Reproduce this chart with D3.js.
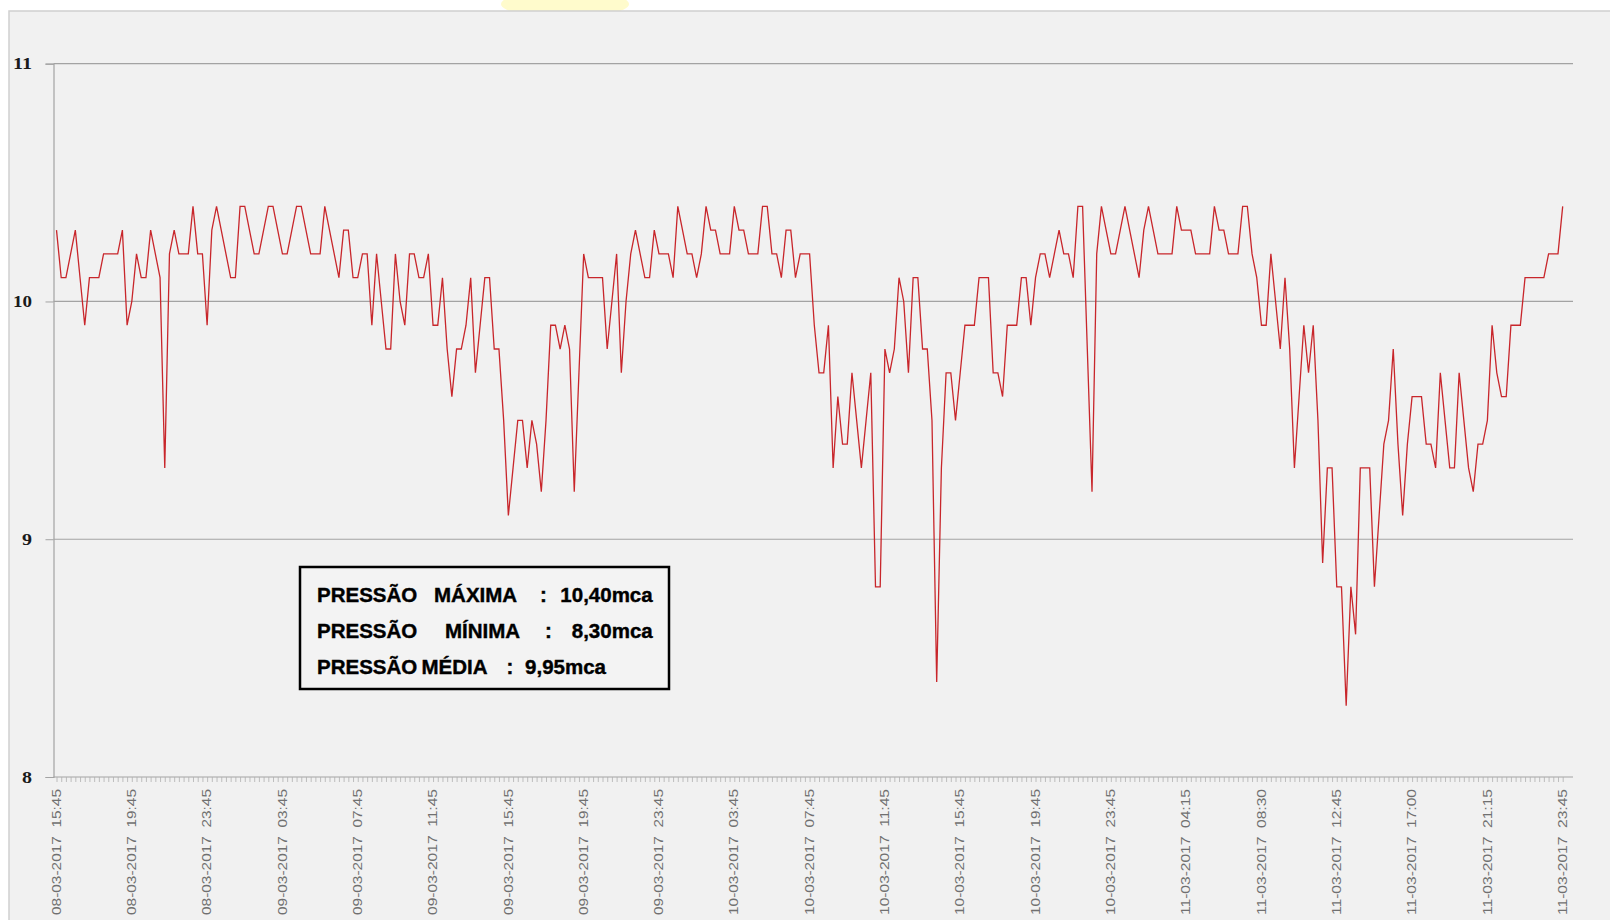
<!DOCTYPE html>
<html>
<head>
<meta charset="utf-8">
<script src="https://cdnjs.cloudflare.com/ajax/libs/d3/7.8.5/d3.min.js"></script>
<style>
  html, body { margin: 0; padding: 0; background: #ffffff; }
  svg { display: block; }
</style>
</head>
<body>
<svg id="chart" width="1610" height="920"></svg>
<script>
// ---- data ----
const pressure = [
10.3,10.1,10.1,10.2,10.3,10.1,9.9,10.1,10.1,10.1,
10.2,10.2,10.2,10.2,10.3,9.9,10.0,10.2,10.1,10.1,
10.3,10.2,10.1,9.3,10.2,10.3,10.2,10.2,10.2,10.4,
10.2,10.2,9.9,10.3,10.4,10.3,10.2,10.1,10.1,10.4,
10.4,10.3,10.2,10.2,10.3,10.4,10.4,10.3,10.2,10.2,
10.3,10.4,10.4,10.3,10.2,10.2,10.2,10.4,10.3,10.2,
10.1,10.3,10.3,10.1,10.1,10.2,10.2,9.9,10.2,10.0,
9.8,9.8,10.2,10.0,9.9,10.2,10.2,10.1,10.1,10.2,
9.9,9.9,10.1,9.8,9.6,9.8,9.8,9.9,10.1,9.7,
9.9,10.1,10.1,9.8,9.8,9.5,9.1,9.3,9.5,9.5,
9.3,9.5,9.4,9.2,9.5,9.9,9.9,9.8,9.9,9.8,
9.2,9.7,10.2,10.1,10.1,10.1,10.1,9.8,10.0,10.2,
9.7,10.0,10.2,10.3,10.2,10.1,10.1,10.3,10.2,10.2,
10.2,10.1,10.4,10.3,10.2,10.2,10.1,10.2,10.4,10.3,
10.3,10.2,10.2,10.2,10.4,10.3,10.3,10.2,10.2,10.2,
10.4,10.4,10.2,10.2,10.1,10.3,10.3,10.1,10.2,10.2,
10.2,9.9,9.7,9.7,9.9,9.3,9.6,9.4,9.4,9.7,
9.5,9.3,9.5,9.7,8.8,8.8,9.8,9.7,9.8,10.1,
10.0,9.7,10.1,10.1,9.8,9.8,9.5,8.4,9.3,9.7,
9.7,9.5,9.7,9.9,9.9,9.9,10.1,10.1,10.1,9.7,
9.7,9.6,9.9,9.9,9.9,10.1,10.1,9.9,10.1,10.2,
10.2,10.1,10.2,10.3,10.2,10.2,10.1,10.4,10.4,9.8,
9.2,10.2,10.4,10.3,10.2,10.2,10.3,10.4,10.3,10.2,
10.1,10.3,10.4,10.3,10.2,10.2,10.2,10.2,10.4,10.3,
10.3,10.3,10.2,10.2,10.2,10.2,10.4,10.3,10.3,10.2,
10.2,10.2,10.4,10.4,10.2,10.1,9.9,9.9,10.2,10.0,
9.8,10.1,9.8,9.3,9.6,9.9,9.7,9.9,9.5,8.9,
9.3,9.3,8.8,8.8,8.3,8.8,8.6,9.3,9.3,9.3,
8.8,9.1,9.4,9.5,9.8,9.4,9.1,9.4,9.6,9.6,
9.6,9.4,9.4,9.3,9.7,9.5,9.3,9.3,9.7,9.5,
9.3,9.2,9.4,9.4,9.5,9.9,9.7,9.6,9.6,9.9,
9.9,9.9,10.1,10.1,10.1,10.1,10.1,10.2,10.2,10.2,
10.4
];
const tickIndex = [0,16,32,48,64,80,96,112,128,144,160,176,192,208,224,240,256,272,288,304,320];
const tickLabels = [
  "08-03-2017  15:45","08-03-2017  19:45","08-03-2017  23:45",
  "09-03-2017  03:45","09-03-2017  07:45","09-03-2017  11:45",
  "09-03-2017  15:45","09-03-2017  19:45","09-03-2017  23:45",
  "10-03-2017  03:45","10-03-2017  07:45","10-03-2017  11:45",
  "10-03-2017  15:45","10-03-2017  19:45","10-03-2017  23:45",
  "11-03-2017  04:15","11-03-2017  08:30","11-03-2017  12:45",
  "11-03-2017  17:00","11-03-2017  21:15","11-03-2017  23:45"
];
const yTicks = [8, 9, 10, 11];
const statLabels = ["PRESSÃO", "PRESSÃO", "PRESSÃO"];
const statNames = ["MÁXIMA", "MÍNIMA", "MÉDIA"];
const statValues = ["10,40mca", "8,30mca", "9,95mca"];

// ---- drawing ----
const svg = d3.select("#chart");
const plotLeft = 53.5, plotRight = 1573;

// yellow highlight at the top (behind panel)
svg.append("ellipse").attr("cx", 565).attr("cy", 4).attr("rx", 64).attr("ry", 14)
  .attr("fill", "#fffbcc");

// panel
svg.append("rect").attr("x", 9).attr("y", 11).attr("width", 1610).attr("height", 920)
  .attr("fill", "#f1f1f1").attr("stroke", "#cfcfcf").attr("stroke-width", 1.5);

const x = d3.scalePoint().domain(d3.range(pressure.length)).range([56.5, 1562.7]);
const y = d3.scaleLinear().domain([8, 11]).range([777, 63.7]);

// gridlines
svg.append("g").selectAll("line").data(yTicks.filter(v => v > 8)).join("line")
  .attr("x1", plotLeft).attr("x2", plotRight)
  .attr("y1", d => y(d)).attr("y2", d => y(d))
  .attr("stroke", "#a3a3a3").attr("stroke-width", 1.2);

// y axis
const yAxis = d3.axisLeft(y).tickValues(yTicks).tickSize(8).tickFormat("");
const gy = svg.append("g").attr("transform", `translate(${plotLeft},0)`).call(yAxis);
gy.select(".domain").attr("stroke", "#a3a3a3").attr("stroke-width", 1.2);
gy.selectAll(".tick line").attr("stroke", "#a3a3a3");
svg.append("g").selectAll("text").data(yTicks).join("text")
  .attr("x", 32).attr("y", d => y(d)).attr("dy", "0.35em")
  .attr("text-anchor", "end")
  .attr("font-family", "Liberation Serif, serif").attr("font-weight", "bold")
  .attr("font-size", 16).attr("fill", "#1a1a1a")
  .attr("textLength", d => String(d).length > 1 ? 19 : 10)
  .attr("lengthAdjust", "spacingAndGlyphs")
  .text(d => d);

// x axis with a tick for every point
const xAxis = d3.axisBottom(x).tickValues(d3.range(pressure.length)).tickSize(5).tickFormat("");
const gx = svg.append("g").attr("transform", `translate(0,${y(8)})`).call(xAxis);
gx.select(".domain").attr("d", `M${plotLeft},0H${plotRight}`).attr("stroke", "#a3a3a3").attr("stroke-width", 1.2);
gx.selectAll(".tick line").attr("stroke", "#b0b0b0").attr("stroke-width", 0.8);

// rotated x labels
svg.append("g").selectAll("text").data(tickIndex).join("text")
  .attr("transform", d => `translate(${x(d)},789) rotate(-90)`)
  .attr("text-anchor", "end").attr("dy", "0.35em")
  .attr("font-family", "Liberation Sans, Arial, sans-serif")
  .attr("font-size", 12).attr("fill", "#707070")
  .attr("textLength", 126).attr("lengthAdjust", "spacingAndGlyphs")
  .style("white-space", "pre")
  .text((d, i) => tickLabels[i]);

// data line
const line = d3.line().x((d, i) => x(i)).y(d => y(d));
svg.append("path").datum(pressure)
  .attr("d", line).attr("fill", "none")
  .attr("stroke", "#c8262b").attr("stroke-width", 1.3)
  .attr("stroke-linejoin", "miter");

// stats box
svg.append("rect").attr("x", 300).attr("y", 567).attr("width", 369).attr("height", 122)
  .attr("fill", "#f3f3f3").attr("stroke", "#000").attr("stroke-width", 2.5);
const baseY = [601.5, 637.5, 673.5];
const nameX = [434, 445, 421.5];
const colonX = [540, 545, 506.5];
const valueEndX = [652.7, 652.7, 606];
const tf = sel => sel.attr("font-family", "Liberation Sans, Arial, sans-serif")
  .attr("font-weight", "bold").attr("font-size", 20.5).attr("fill", "#000")
  .attr("stroke", "#000").attr("stroke-width", 0.4);
const gb = svg.append("g");
statLabels.forEach((lab, i) => {
  gb.append("text").attr("x", 317).attr("y", baseY[i]).call(tf).text(lab);
  gb.append("text").attr("x", nameX[i]).attr("y", baseY[i]).call(tf).text(statNames[i]);
  gb.append("text").attr("x", colonX[i]).attr("y", baseY[i]).call(tf).text(":");
  gb.append("text").attr("x", valueEndX[i]).attr("y", baseY[i]).attr("text-anchor", "end").call(tf).text(statValues[i]);
});
</script>
</body>
</html>
